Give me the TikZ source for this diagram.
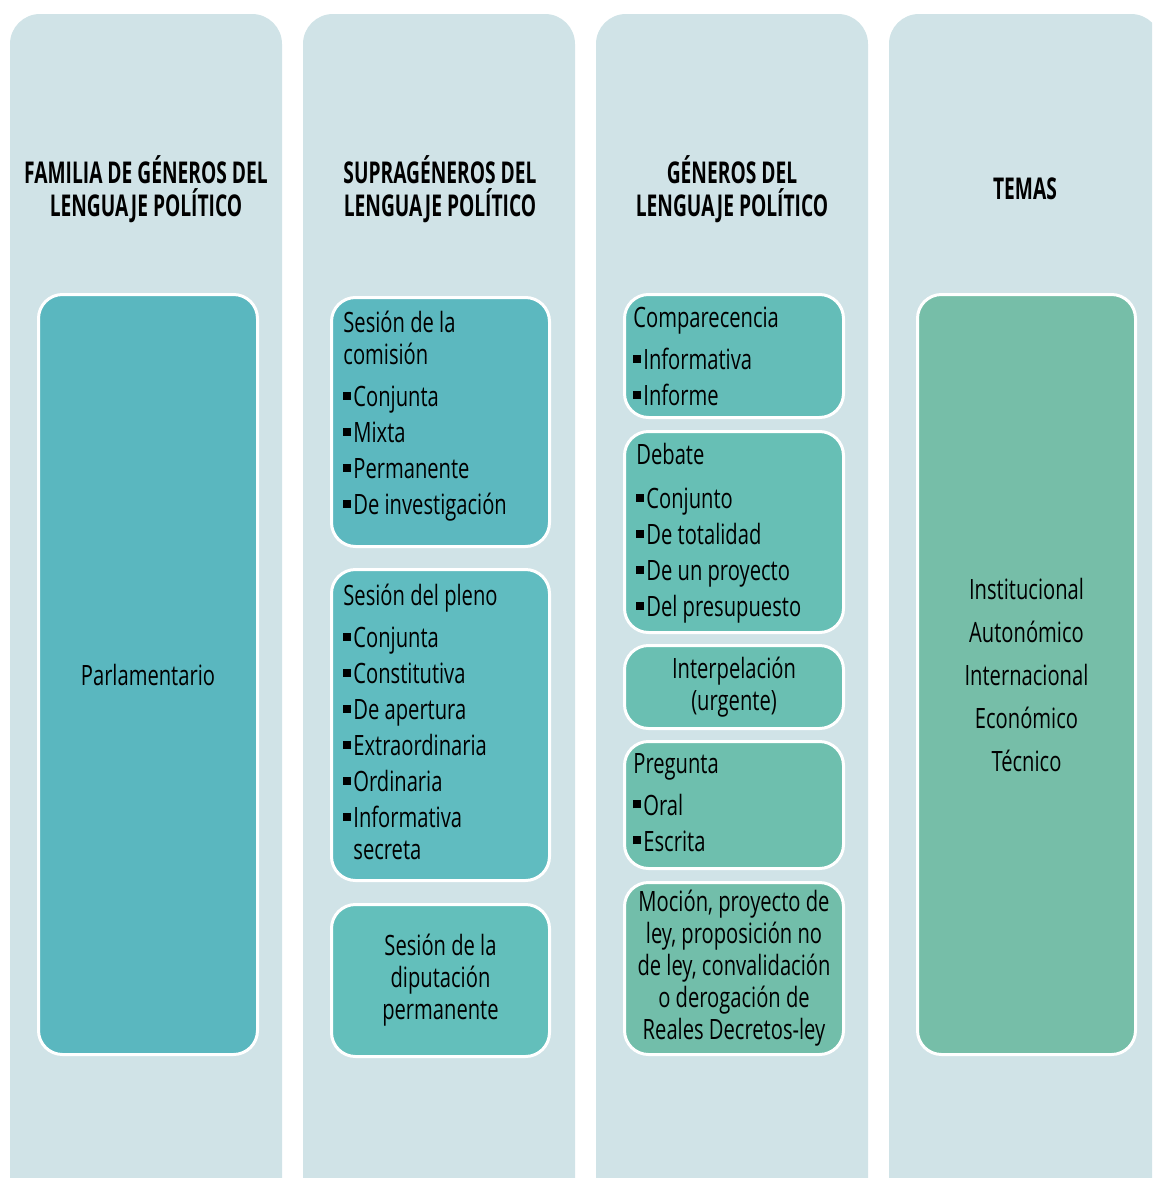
\documentclass[tikz,border=0pt]{standalone}
\usepackage{fontspec}
\setmainfont{Open Sans}[FakeStretch=0.72]
\newfontfamily\cabecera{Open Sans}[FakeStretch=0.64]
\usetikzlibrary{positioning}
\definecolor{fondo}{HTML}{D0E3E7}
\definecolor{cfam}{HTML}{5AB7BF}
\definecolor{csupA}{HTML}{5CB8BF}
\definecolor{csupB}{HTML}{60BCC0}
\definecolor{csupC}{HTML}{63BFBB}
\definecolor{cgenA}{HTML}{64BDB8}
\definecolor{cgenB}{HTML}{67BFB5}
\definecolor{cgenC}{HTML}{6ABFB2}
\definecolor{cgenD}{HTML}{6EBFAE}
\definecolor{cgenE}{HTML}{72BEAA}
\definecolor{ctem}{HTML}{76BEA8}
\newcommand{\cuadro}{\raisebox{3.5pt}{\rule{4pt}{4pt}}\hspace{1pt}}

\begin{document}
\begin{tikzpicture}[x=0.5pt,y=-0.5pt,
	columna/.style={fill=fondo, rounded corners=15pt},
	caja/.style={draw=white, line width=1.5pt, rounded corners=12pt, inner sep=0pt,
		anchor=north west, minimum width=109.5pt, align=center,
		font=\fontsize{14}{16}\selectfont},
	titulo/.style={font=\cabecera\bfseries\fontsize{15}{16.5}\selectfont, align=center},
	lista/.style={font=\fontsize{14}{16}\selectfont, align=left, inner sep=0pt, anchor=north west}]
		%%%%% START %%%%%
		\useasboundingbox (0,0) rectangle (1152,1178);
		
		\begin{scope}
			\clip (0,0) rectangle (1152,1178);
			\foreach \x in {10,303,596,889}
				\fill[columna] (\x,14) rectangle ++(272,1220);
		\end{scope}
		
		\node[titulo] (tfam) at (146,189) {FAMILIA DE GÉNEROS DEL\\LENGUAJE POLÍTICO};
		\node[titulo] (tsup) at (440,189) {SUPRAGÉNEROS DEL\\LENGUAJE POLÍTICO};
		\node[titulo] (tgen) at (732,189) {GÉNEROS DEL\\LENGUAJE POLÍTICO};
		\node[titulo] (ttem) at (1025,189) {TEMAS};
		
		% familia
		\node[caja, fill=cfam, minimum height=380pt] (fam) at (37,293) {Parlamentario};
		
		% supragéneros
		\node[caja, fill=csupA, minimum width=109pt, minimum height=124.5pt] (comision) at (330,296) {};
		\node[lista] (tcomision) at (343,311) {Sesión de la\\comisión\\[5pt]
			\cuadro Conjunta\\[2pt]\cuadro Mixta\\[2pt]\cuadro Permanente\\[2pt]\cuadro De investigación};
		
		\node[caja, fill=csupB, minimum width=109pt, minimum height=155.5pt] (pleno) at (330,568) {};
		\node[lista] (tpleno) at (343,584) {Sesión del pleno\\[5pt]
			\cuadro Conjunta\\[2pt]\cuadro Constitutiva\\[2pt]\cuadro De apertura\\[2pt]
			\cuadro Extraordinaria\\[2pt]\cuadro Ordinaria\\[2pt]\cuadro Informativa\\
			\phantom{\cuadro}secreta};
		
		\node[caja, fill=csupC, minimum width=109pt, minimum height=76pt] (diputacion) at (330,903)
			{Sesión de la\\diputación\\permanente};
		
		% géneros
		\node[caja, fill=cgenA, minimum height=61.5pt] (comparecencia) at (623,293) {};
		\node[lista] (tcomparecencia) at (633,307) {Comparecencia\\[5pt]
			\cuadro Informativa\\[2pt]\cuadro Informe};
		
		\node[caja, fill=cgenB, minimum height=100.5pt] (debate) at (623,430) {};
		\node[lista] (tdebate) at (636,443) {Debate\\[6pt]
			\cuadro Conjunto\\[2pt]\cuadro De totalidad\\[2pt]\cuadro De un proyecto\\[2pt]\cuadro Del presupuesto};
		
		\node[caja, fill=cgenC, minimum height=41.5pt] (interpelacion) at (623,644) {Interpelación\\(urgente)};
		
		\node[caja, fill=cgenD, minimum height=63.5pt] (pregunta) at (623,740) {};
		\node[lista] (tpregunta) at (633,753) {Pregunta\\[5pt]
			\cuadro Oral\\[2pt]\cuadro Escrita};
		
		\node[caja, fill=cgenE, minimum height=86pt] (mocion) at (623,881)
			{Moción, proyecto de\\ley, proposición no\\de ley, convalidación\\o derogación de\\Reales Decretos-ley};
		
		% temas
		\node[caja, fill=ctem, minimum width=109pt, minimum height=380pt] (temas) at (916,293)
			{Institucional\\[5.5pt]Autonómico\\[5.5pt]Internacional\\[5.5pt]Económico\\[5.5pt]Técnico};
		%%%%% END %%%%%
\end{tikzpicture}
\end{document}
